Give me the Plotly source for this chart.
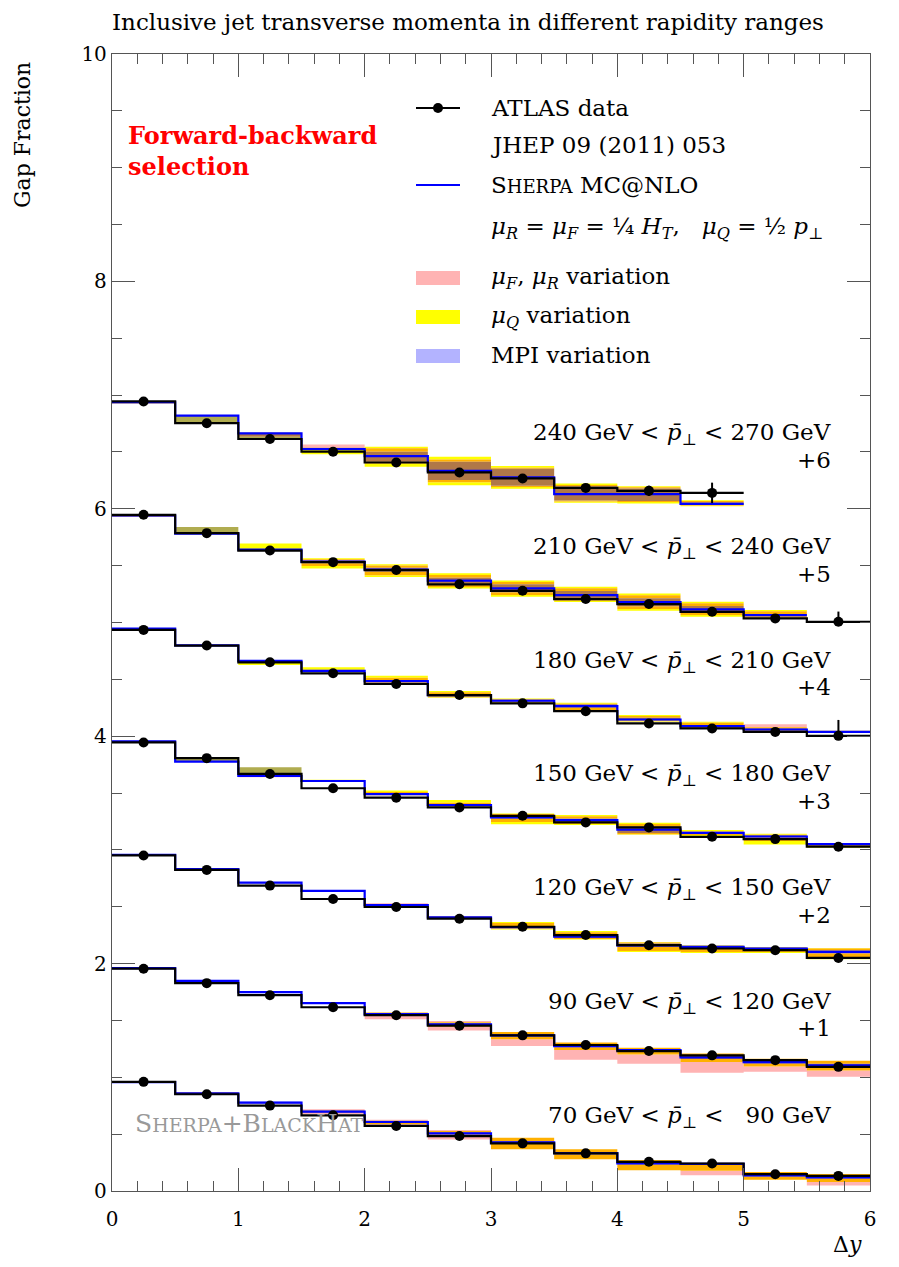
import plotly.graph_objects as go

# ---------------- data ----------------
edges = [0.0, 0.5, 1.0, 1.5, 2.0, 2.5, 3.0, 3.5, 4.0, 4.5, 5.0, 5.5, 6.0]
centers = [0.25, 0.75, 1.25, 1.75, 2.25, 2.75, 3.25, 3.75, 4.25, 4.75, 5.25, 5.75]

offsets = [0, 1, 2, 3, 4, 5, 6]
range_labels = [
    "70 GeV &lt; <i>p̄</i><sub>⊥</sub> &lt; &nbsp;&nbsp;90 GeV",
    "90 GeV &lt; <i>p̄</i><sub>⊥</sub> &lt; 120 GeV",
    "120 GeV &lt; <i>p̄</i><sub>⊥</sub> &lt; 150 GeV",
    "150 GeV &lt; <i>p̄</i><sub>⊥</sub> &lt; 180 GeV",
    "180 GeV &lt; <i>p̄</i><sub>⊥</sub> &lt; 210 GeV",
    "210 GeV &lt; <i>p̄</i><sub>⊥</sub> &lt; 240 GeV",
    "240 GeV &lt; <i>p̄</i><sub>⊥</sub> &lt; 270 GeV",
]
offset_labels = ["", "+1", "+2", "+3", "+4", "+5", "+6"]

# ATLAS data (gap fraction, before offset)
data_70 = [0.960, 0.851, 0.751, 0.666, 0.572, 0.483, 0.419, 0.331, 0.257, 0.242, 0.148, 0.133]
data_90 = [0.955, 0.828, 0.722, 0.616, 0.546, 0.454, 0.369, 0.284, 0.231, 0.193, 0.151, 0.092]
data_120 = [0.951, 0.824, 0.686, 0.568, 0.498, 0.395, 0.324, 0.251, 0.162, 0.133, 0.118, 0.050]
data_150 = [0.945, 0.807, 0.668, 0.542, 0.459, 0.374, 0.300, 0.242, 0.198, 0.115, 0.095, 0.028]
data_180 = [0.935, 0.797, 0.650, 0.553, 0.459, 0.362, 0.289, 0.220, 0.112, 0.068, 0.038, 0.003]
data_210 = [0.947, 0.786, 0.633, 0.531, 0.461, 0.336, 0.279, 0.206, 0.162, 0.094, 0.036, 0.006]
data_240 = [0.944, 0.753, 0.614, 0.502, 0.407, 0.320, 0.267, 0.184, 0.158, 0.140]

# data uncertainties (up, down)
err_up_70 = [0] * 12
err_up_90 = [0] * 12
err_up_120 = [0] * 12
err_up_150 = [0] * 12
err_up_180 = [0, 0, 0, 0, 0, 0, 0, 0, 0, 0, 0, 0.14]
err_up_210 = [0, 0, 0, 0, 0, 0, 0, 0, 0, 0, 0, 0.09]
err_up_240 = [0, 0, 0, 0, 0, 0, 0, 0, 0.045, 0.09]
err_dn_70 = [0] * 12
err_dn_90 = [0] * 12
err_dn_120 = [0] * 12
err_dn_150 = [0] * 12
err_dn_180 = [0] * 12
err_dn_210 = [0] * 12
err_dn_240 = [0, 0, 0, 0, 0, 0, 0, 0, 0.045, 0.09]

# Sherpa MC@NLO central values
mc_70 = [0.958, 0.858, 0.778, 0.698, 0.607, 0.507, 0.428, 0.333, 0.243, 0.238, 0.138, 0.119]
mc_90 = [0.960, 0.848, 0.749, 0.652, 0.555, 0.465, 0.369, 0.275, 0.240, 0.175, 0.134, 0.105]
mc_120 = [0.956, 0.831, 0.712, 0.639, 0.515, 0.407, 0.321, 0.236, 0.161, 0.147, 0.131, 0.103]
mc_150 = [0.954, 0.777, 0.651, 0.606, 0.490, 0.395, 0.286, 0.262, 0.178, 0.150, 0.118, 0.050]
mc_180 = [0.947, 0.799, 0.662, 0.574, 0.485, 0.362, 0.312, 0.265, 0.147, 0.088, 0.059, 0.038]
mc_210 = [0.941, 0.781, 0.641, 0.536, 0.466, 0.368, 0.301, 0.241, 0.179, 0.115, 0.065]
mc_240 = [0.937, 0.820, 0.664, 0.526, 0.464, 0.334, 0.277, 0.129, 0.129, 0.043]

# variations as (down, up) deviations from the central value
scale_70 = [(0.005, 0.005), (0.01, 0.01), (0.01, 0.005), (0.02, 0.02), (0.04, 0.02), (0.053, 0.03),
            (0.06, 0.04), (0.053, 0.035), (0.06, 0.03), (0.10, 0.005), (0.04, 0.03), (0.07, 0.03)]
muq_70 = [(0.005, 0.005), (0.005, 0.01), (0.005, 0.005), (0.01, 0.01), (0.02, 0.01), (0.03, 0.02),
          (0.06, 0.04), (0.053, 0.035), (0.06, 0.03), (0.06, 0.01), (0.04, 0.03), (0.04, 0.03)]
mpi_70 = [(0.005, 0.005), (0.005, 0.005), (0.01, 0.01), (0.01, 0.01), (0.01, 0.01), (0.01, 0.01),
          (0.01, 0.01), (0.01, 0.01), (0.01, 0.01), (0.01, 0.01), (0.01, 0.01), (0.01, 0.01)]

scale_90 = [(0.005, 0.005), (0.005, 0.005), (0.005, 0.005), (0.005, 0.005), (0.044, 0.015), (0.053, 0.03),
            (0.094, 0.03), (0.12, 0.03), (0.12, 0.02), (0.135, 0.035), (0.085, 0.03), (0.10, 0.04)]
muq_90 = [(0.005, 0.005), (0.005, 0.005), (0.005, 0.005), (0.005, 0.005), (0.015, 0.015), (0.02, 0.02),
          (0.035, 0.03), (0.035, 0.03), (0.04, 0.02), (0.04, 0.035), (0.04, 0.03), (0.045, 0.04)]
mpi_90 = [(0.005, 0.005), (0.005, 0.005), (0.005, 0.005), (0.005, 0.005), (0.005, 0.005), (0.01, 0.01),
          (0.01, 0.01), (0.01, 0.01), (0.01, 0.01), (0.015, 0.015), (0.015, 0.015), (0.015, 0.015)]

scale_120 = [(0.005, 0.005), (0.01, 0.01), (0.005, 0.005), (0.005, 0.005), (0.015, 0.015), (0.01, 0.01),
             (0.015, 0.035), (0.02, 0.04), (0.05, 0.025), (0.045, 0.01), (0.03, 0.01), (0.055, 0.03)]
muq_120 = [(0.005, 0.005), (0.005, 0.005), (0.005, 0.005), (0.005, 0.005), (0.015, 0.01), (0.015, 0.01),
           (0.02, 0.044), (0.024, 0.05), (0.06, 0.03), (0.053, 0.015), (0.038, 0.015), (0.065, 0.035)]
mpi_120 = [(0.005, 0.005), (0.01, 0.01), (0.005, 0.005), (0.005, 0.005), (0.005, 0.005), (0.005, 0.005),
           (0.01, 0.01), (0.01, 0.01), (0.015, 0.015), (0.01, 0.01), (0.01, 0.01), (0.015, 0.015)]

scale_150 = [(0.005, 0.005), (0.0, 0.0), (0.012, 0.0), (0.005, 0.005), (0.01, 0.02), (0.01, 0.02),
             (0.04, 0.03), (0.035, 0.035), (0.04, 0.05), (0.02, 0.015), (0.04, 0.015), (0.02, 0.005)]
muq_150 = [(0.005, 0.005), (0.0, 0.03), (0.0, 0.076), (0.005, 0.01), (0.01, 0.032), (0.01, 0.044),
           (0.06, 0.035), (0.044, 0.044), (0.044, 0.06), (0.035, 0.024), (0.07, 0.024), (0.03, 0.005)]
mpi_150 = [(0.005, 0.005), (0.0, 0.03), (0.0, 0.076), (0.005, 0.005), (0.005, 0.005), (0.005, 0.005),
           (0.01, 0.01), (0.015, 0.015), (0.03, 0.03), (0.01, 0.01), (0.01, 0.01), (0.01, 0.005)]

scale_180 = [(0.005, 0.005), (0.005, 0.005), (0.01, 0.005), (0.005, 0.01), (0.035, 0.03), (0.02, 0.025),
             (0.015, 0.015), (0.035, 0.02), (0.015, 0.03), (0.015, 0.03), (0.02, 0.047), (0.01, 0.01)]
muq_180 = [(0.005, 0.005), (0.005, 0.005), (0.035, 0.005), (0.005, 0.032), (0.035, 0.047), (0.024, 0.035),
           (0.02, 0.02), (0.05, 0.03), (0.02, 0.04), (0.02, 0.038), (0.015, 0.02), (0.01, 0.01)]
mpi_180 = [(0.005, 0.005), (0.005, 0.005), (0.005, 0.005), (0.005, 0.005), (0.01, 0.01), (0.01, 0.01),
           (0.01, 0.01), (0.015, 0.015), (0.01, 0.015), (0.01, 0.01), (0.01, 0.01), (0.005, 0.005)]

scale_210 = [(0.01, 0.01), (0.0, 0.0), (0.005, 0.005), (0.04, 0.02), (0.05, 0.035), (0.055, 0.05),
             (0.06, 0.055), (0.05, 0.06), (0.06, 0.06), (0.05, 0.055), (0.02, 0.035)]
muq_210 = [(0.01, 0.01), (0.0, 0.06), (0.005, 0.053), (0.06, 0.03), (0.065, 0.047), (0.068, 0.065),
           (0.074, 0.068), (0.06, 0.074), (0.076, 0.076), (0.065, 0.068), (0.03, 0.044)]
mpi_210 = [(0.01, 0.01), (0.0, 0.06), (0.005, 0.005), (0.015, 0.01), (0.02, 0.015), (0.025, 0.025),
           (0.035, 0.035), (0.035, 0.035), (0.035, 0.035), (0.03, 0.03), (0.01, 0.01)]

scale_240 = [(0.01, 0.01), (0.0, 0.0), (0.03, 0.005), (0.0, 0.04), (0.065, 0.068), (0.10, 0.10),
             (0.085, 0.085), (0.065, 0.08), (0.07, 0.06), (0.015, 0.025)]
muq_240 = [(0.01, 0.01), (0.06, 0.0), (0.045, 0.005), (0.047, 0.01), (0.094, 0.082), (0.126, 0.124),
           (0.10, 0.10), (0.076, 0.094), (0.082, 0.07), (0.02, 0.032)]
mpi_240 = [(0.01, 0.01), (0.06, 0.0), (0.045, 0.005), (0.01, 0.01), (0.05, 0.038), (0.08, 0.08),
           (0.075, 0.075), (0.055, 0.07), (0.06, 0.05), (0.01, 0.015)]

series = [
    (data_70, err_up_70, err_dn_70, mc_70, scale_70, muq_70, mpi_70),
    (data_90, err_up_90, err_dn_90, mc_90, scale_90, muq_90, mpi_90),
    (data_120, err_up_120, err_dn_120, mc_120, scale_120, muq_120, mpi_120),
    (data_150, err_up_150, err_dn_150, mc_150, scale_150, muq_150, mpi_150),
    (data_180, err_up_180, err_dn_180, mc_180, scale_180, muq_180, mpi_180),
    (data_210, err_up_210, err_dn_210, mc_210, scale_210, muq_210, mpi_210),
    (data_240, err_up_240, err_dn_240, mc_240, scale_240, muq_240, mpi_240),
]

# ---------------- styling ----------------
FONT = "DejaVu Serif"
PINK = "#ffb3b3"
YELLOW = "#ffff00"
LBLUE = "#b3b3ff"
# colours of overlapping bands (scale, muQ, MPI)
combo_colors = {
    (1, 0, 0): PINK,
    (0, 1, 0): YELLOW,
    (0, 0, 1): LBLUE,
    (1, 1, 0): "#ffb000",
    (0, 1, 1): "#b0ac50",
    (1, 0, 1): "#c8a0d0",
    (1, 1, 1): "#b07848",
}

fig = go.Figure()

# ---- bands ----
paths = {k: ([], []) for k in combo_colors}
for off, (dat, eu, ed, mc, sc, mq, mp) in zip(offsets, series):
    for i, m in enumerate(mc):
        x0, x1 = edges[i], edges[i + 1]
        ivs = [(m - d, m + u) for (d, u) in (sc[i], mq[i], mp[i])]
        pts = sorted(set(v for iv in ivs for v in iv))
        for a, b in zip(pts[:-1], pts[1:]):
            mid = 0.5 * (a + b)
            key = tuple(int(lo <= mid <= hi) for lo, hi in ivs)
            if any(key):
                xs, ys = paths[key]
                xs += [x0, x1, x1, x0, x0, None]
                ys += [a + off, a + off, b + off, b + off, a + off, None]

for key, (xs, ys) in paths.items():
    if xs:
        fig.add_trace(go.Scatter(x=xs, y=ys, fill="toself", fillcolor=combo_colors[key],
                                 mode="none", hoverinfo="skip", showlegend=False))

# ---- MC lines ----
for off, (dat, eu, ed, mc, sc, mq, mp) in zip(offsets, series):
    n = len(mc)
    fig.add_trace(go.Scatter(x=edges[:n + 1], y=[v + off for v in mc] + [mc[-1] + off],
                             mode="lines", line=dict(color="#0000ff", width=2.2, shape="hv"),
                             hoverinfo="skip", showlegend=False))

# ---- data histograms + points ----
for off, (dat, eu, ed, mc, sc, mq, mp) in zip(offsets, series):
    n = len(dat)
    fig.add_trace(go.Scatter(x=edges[:n + 1], y=[v + off for v in dat] + [dat[-1] + off],
                             mode="lines", line=dict(color="black", width=2.2, shape="hv"),
                             hoverinfo="skip", showlegend=False))
    fig.add_trace(go.Scatter(x=centers[:n], y=[v + off for v in dat], mode="markers",
                             marker=dict(color="black", size=10),
                             error_y=dict(type="data", symmetric=False, array=eu, arrayminus=ed,
                                          color="black", thickness=2, width=0),
                             hoverinfo="skip", showlegend=False))

# ---------------- annotations ----------------
ann = []
for off, lab, olab in zip(offsets, range_labels, offset_labels):
    ann.append(dict(x=5.71, y=off + 0.655, xref="x", yref="y", text=lab, showarrow=False,
                    xanchor="right", yanchor="middle", font=dict(family=FONT, size=23, color="black")))
    if olab:
        ann.append(dict(x=5.71, y=off + 0.43, xref="x", yref="y", text=olab, showarrow=False,
                        xanchor="right", yanchor="middle", font=dict(family=FONT, size=23, color="black")))

# the page body adds an 8 px margin around the figure
PAGE = 8
W, H = 899 - PAGE, 1267 - PAGE
L, R, T, B = 112, 870, 54, 1191   # plot area in window pixels


def px(xp):
    return (xp - L) / (R - L)


def py(yp):
    return (B - yp) / (B - T)


# title
ann.append(dict(x=px(110), y=py(22), xref="paper", yref="paper", xanchor="left", yanchor="middle",
                text="Inclusive jet transverse momenta in different rapidity ranges", showarrow=False,
                font=dict(family=FONT, size=23, color="black")))
# y-axis title
ann.append(dict(x=px(23), y=py(60), xref="paper", yref="paper", xanchor="center", yanchor="top",
                text="Gap Fraction", textangle=-90, showarrow=False,
                font=dict(family=FONT, size=22, color="black")))
# x-axis title
ann.append(dict(x=px(864), y=py(1244), xref="paper", yref="paper", xanchor="right", yanchor="middle",
                text="Δ<i>y</i>", showarrow=False, font=dict(family=FONT, size=22, color="black")))
# selection label
ann.append(dict(x=px(126), y=py(151), xref="paper", yref="paper", xanchor="left", yanchor="middle",
                text="<b>Forward-backward<br>selection</b>", align="left", showarrow=False,
                font=dict(family=FONT, size=24, color="#ff0000")))
# Sherpa+BlackHat
ann.append(dict(x=px(133), y=py(1123), xref="paper", yref="paper", xanchor="left", yanchor="middle",
                text="S<span style='font-size:19px'>HERPA</span>+B<span style='font-size:19px'>LACK</span>"
                     "H<span style='font-size:19px'>AT</span>",
                showarrow=False, font=dict(family=FONT, size=25, color="#999999")))

# legend texts
LX = 489
leg_font = dict(family=FONT, size=23, color="black")
leg_items = [
    (108, "ATLAS data"),
    (145, "JHEP 09 (2011) 053"),
    (185, "S<span style='font-size:18px'>HERPA</span> MC@NLO"),
    (228, "<i>μ</i><sub><i>R</i></sub> = <i>μ</i><sub><i>F</i></sub> = ¼ <i>H</i><sub><i>T</i></sub>,"
          "&nbsp;&nbsp; <i>μ</i><sub><i>Q</i></sub> = ½ <i>p</i><sub>⊥</sub>"),
    (278, "<i>μ</i><sub><i>F</i></sub>, <i>μ</i><sub><i>R</i></sub> variation"),
    (317, "<i>μ</i><sub><i>Q</i></sub> variation"),
    (355, "MPI variation"),
]
for yp, txt in leg_items:
    ann.append(dict(x=px(LX), y=py(yp), xref="paper", yref="paper", xanchor="left", yanchor="middle",
                    text=txt, showarrow=False, font=leg_font))

shapes = [
    dict(type="line", xref="paper", yref="paper", x0=px(416), x1=px(460), y0=py(108), y1=py(108),
         line=dict(color="black", width=2.2)),
    dict(type="circle", xref="paper", yref="paper", x0=px(433), x1=px(443), y0=py(103), y1=py(113),
         fillcolor="black", line=dict(color="black", width=0)),
    dict(type="line", xref="paper", yref="paper", x0=px(416), x1=px(460), y0=py(185), y1=py(185),
         line=dict(color="#0000ff", width=2.2)),
    dict(type="rect", xref="paper", yref="paper", x0=px(416), x1=px(460), y0=py(285), y1=py(271),
         fillcolor=PINK, line=dict(width=0)),
    dict(type="rect", xref="paper", yref="paper", x0=px(416), x1=px(460), y0=py(324), y1=py(310),
         fillcolor=YELLOW, line=dict(width=0)),
    dict(type="rect", xref="paper", yref="paper", x0=px(416), x1=px(460), y0=py(363), y1=py(349),
         fillcolor=LBLUE, line=dict(width=0)),
]

axis_common = dict(showline=True, linecolor="#555555", linewidth=1.3, mirror="allticks",
                   ticks="inside", tickcolor="#555555", tickwidth=1.2, showgrid=False, zeroline=False,
                   tickfont=dict(family=FONT, size=20, color="black"))

fig.update_layout(
    width=W, height=H,
    margin=dict(l=L - PAGE, r=W + PAGE - R, t=T - PAGE, b=H + PAGE - B),
    paper_bgcolor="white", plot_bgcolor="white",
    showlegend=False,
    xaxis=dict(range=[0, 6], tick0=0, dtick=1, ticklen=23, ticklabelstandoff=10,
               minor=dict(dtick=0.2, ticklen=10, ticks="inside", tickcolor="#555555", tickwidth=1.2),
               **axis_common),
    yaxis=dict(range=[0, 10], tick0=0, dtick=2, ticklen=23,
               minor=dict(dtick=0.5, ticklen=10, ticks="inside", tickcolor="#555555", tickwidth=1.2),
               **axis_common),
    annotations=ann,
    shapes=shapes,
)

fig.write_html("out.html")
